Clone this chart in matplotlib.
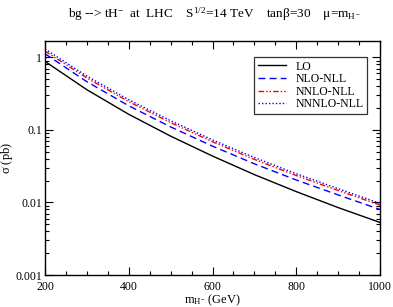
import matplotlib
matplotlib.use("Agg")
import matplotlib.pyplot as plt
from matplotlib.ticker import FixedLocator, MultipleLocator, LogLocator, NullFormatter, FuncFormatter

plt.rcParams['font.family'] = ['Liberation Serif', 'DejaVu Serif']
plt.rcParams['mathtext.fontset'] = 'custom'
plt.rcParams['mathtext.rm'] = 'Liberation Serif'
plt.rcParams['mathtext.it'] = 'Liberation Serif'

mass = [200, 300, 400, 500, 600, 700, 800, 900, 1000]
lo = [0.879, 0.358, 0.164, 0.082, 0.0436, 0.0242, 0.0141, 0.0085, 0.0053]
nlo = [1.12, 0.462, 0.215, 0.110, 0.0597, 0.0341, 0.0204, 0.0127, 0.0080]
nnlo = [1.22, 0.520, 0.245, 0.126, 0.0687, 0.0392, 0.0235, 0.0146, 0.0092]
nnnlo = [1.30, 0.552, 0.260, 0.134, 0.0728, 0.0416, 0.0249, 0.0155, 0.0097]
labels = ["LO", "NLO-NLL", "NNLO-NLL", "NNNLO-NLL"]

fig = plt.figure(figsize=(3.93, 3.07), dpi=100)
ax = fig.add_axes([45/393, 32/307, 335/393, 234/307])

ax.plot(mass, lo, color='black', lw=1.0, label=labels[0])
ax.plot(mass, nlo, color='blue', lw=1.0, dashes=(5, 3), label=labels[1])
ax.plot(mass, nnlo, color='red', lw=1.0, dashes=(4, 1.5, 1, 1.5, 1, 1.5), label=labels[2])
ax.plot(mass, nnnlo, color='blue', lw=1.0, dashes=(1, 1.5), label=labels[3])

ax.set_yscale('log')
ax.set_xlim(200, 1000)
ax.set_ylim(0.001, 1.68)
ax.xaxis.set_major_locator(MultipleLocator(200))
ax.xaxis.set_minor_locator(MultipleLocator(50))
ax.yaxis.set_major_locator(FixedLocator([0.001, 0.01, 0.1, 1]))
ax.yaxis.set_minor_locator(LogLocator(base=10, subs=range(2, 10)))
ax.yaxis.set_minor_formatter(NullFormatter())
ax.yaxis.set_major_formatter(FuncFormatter(lambda v, p: {0.001: "0.001", 0.01: "0.01", 0.1: "0.1", 1: "1"}.get(round(v, 3), "")))

ax.tick_params(which='both', direction='in', top=True, right=True, labelsize=8.5, width=0.8)
ax.tick_params(which='major', length=6)
ax.tick_params(axis='y', which='major', pad=2)
ax.tick_params(axis='x', which='major', pad=4)
ax.tick_params(which='minor', length=3)
for s in ax.spines.values():
    s.set_linewidth(1.0)

ax.set_xlabel(r"m$_{H^{-}}$ (GeV)", fontsize=9, labelpad=0)
ax.set_ylabel(r"$\sigma$ (pb)", fontsize=9)
ax.yaxis.set_label_coords(-30/335, 0.5)
fig.text(0.545, 0.955, r"bg --> tH$^{-}$  at  LHC    S$^{1/2}$=14 TeV    tan$\beta$=30    $\mu$=m$_{H^{-}}$",
         ha='center', va='center', fontsize=9.5)

leg = ax.legend(loc='upper right', bbox_to_anchor=(322/335, 1 - 16/234), fontsize=8.5,
                frameon=True, fancybox=False, edgecolor='black', handlelength=2.4,
                borderpad=0.3, labelspacing=0.05, handletextpad=0.8, borderaxespad=0)
leg.get_frame().set_linewidth(0.9)

fig.savefig("out.png", dpi=100)
